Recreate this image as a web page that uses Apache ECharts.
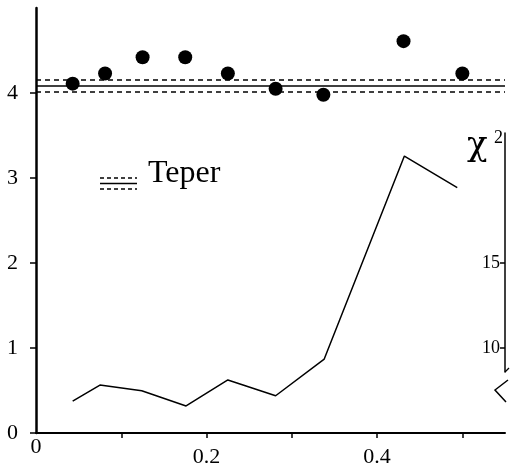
<!DOCTYPE html>
<html>
<head>
    <meta charset="UTF-8">
    <title>Teper chi2</title>
    <script src="https://cdn.jsdelivr.net/npm/echarts@6/dist/echarts.min.js"></script>
    <style type="text/css">
        html, body { margin: 0; padding: 0; background: #fff; }
        #main { width: 511px; height: 470px; }
    </style>
</head>
<body>
<div id="main"></div>
<script type="text/javascript">
    // dots (left axis)
    var dotX = [0.043, 0.081, 0.125, 0.175, 0.225, 0.281, 0.337, 0.431, 0.500];
    var dotY = [4.11, 4.23, 4.42, 4.42, 4.23, 4.05, 3.98, 4.61, 4.23];
    // chi2 curve (right axis)
    var chiX = [0.043, 0.075, 0.124, 0.176, 0.225, 0.281, 0.338, 0.432, 0.494];
    var chiY = [6.88, 7.82, 7.49, 6.59, 8.12, 7.19, 9.35, 21.29, 19.43];
    // Teper value and its band
    var teperBand = [4.161, 4.082, 4.006];
    // tick labels
    var xLabels = [0, 0.2, 0.4];
    var xTicks = [0.1, 0.2, 0.3, 0.4, 0.5];
    var yLabels = [0, 1, 2, 3, 4];
    var chiLabels = [10, 15];

    var serif = 'Liberation Serif';
    var dash = [5, 4];

    var myChart = echarts.init(document.getElementById('main'));

    var dots = dotX.map(function (x, i) { return [x, dotY[i]]; });
    var chi = chiX.map(function (x, i) { return [x, chiY[i]]; });

    var option = {
        animation: false,
        backgroundColor: '#fff',
        grid: [
            {left: 36, right: 6, top: 8, bottom: 37},
            {left: 36, right: 6, top: 133, bottom: 98}
        ],
        xAxis: [
            {
                type: 'value', gridIndex: 0, min: 0, max: 0.55, interval: 0.1,
                axisLine: {show: true, lineStyle: {color: '#000', width: 2}},
                axisTick: {show: true, length: 5, customValues: xTicks, lineStyle: {color: '#000', width: 1.5}},
                splitLine: {show: false},
                axisLabel: {
                    customValues: xLabels,
                    margin: 3,
                    color: '#000',
                    fontFamily: serif,
                    fontSize: 22,
                    formatter: function (v) {
                        return v === 0 ? '{z|0}' : '{n|' + v.toFixed(1) + '}';
                    },
                    rich: {
                        z: {lineHeight: 22, fontSize: 22, fontFamily: serif, color: '#000'},
                        n: {lineHeight: 42, fontSize: 22, fontFamily: serif, color: '#000'}
                    }
                }
            },
            {type: 'value', gridIndex: 1, min: 0, max: 0.55, show: false}
        ],
        yAxis: [
            {
                type: 'value', gridIndex: 0, min: 0, max: 5, interval: 1,
                axisLine: {show: true, lineStyle: {color: '#000', width: 2.5}},
                axisTick: {show: true, length: 6, customValues: yLabels, lineStyle: {color: '#000', width: 1.5}},
                splitLine: {show: false},
                axisLabel: {customValues: yLabels, margin: 18, color: '#000', fontFamily: serif, fontSize: 22}
            },
            {type: 'value', gridIndex: 0, position: 'right', min: 5, max: 30, show: false},
            {
                type: 'value', gridIndex: 1, position: 'right', min: 8.59, max: 22.65,
                axisLine: {show: true, onZero: false, lineStyle: {color: '#000', width: 1.5}},
                axisTick: {show: true, inside: true, length: 5, customValues: chiLabels, lineStyle: {color: '#000', width: 1.5}},
                splitLine: {show: false},
                axisLabel: {inside: true, customValues: chiLabels, margin: 5, color: '#000', fontFamily: serif, fontSize: 18}
            }
        ],
        series: [
            {
                name: 'chi2',
                type: 'line',
                xAxisIndex: 0,
                yAxisIndex: 1,
                data: chi,
                symbol: 'none',
                lineStyle: {color: '#000', width: 1.5}
            },
            {
                name: 'dots',
                type: 'scatter',
                xAxisIndex: 0,
                yAxisIndex: 0,
                data: dots,
                symbolSize: 14,
                itemStyle: {color: '#000', opacity: 1},
                markLine: {
                    silent: true,
                    symbol: ['none', 'none'],
                    label: {show: false},
                    data: [
                        {yAxis: teperBand[0], lineStyle: {color: '#000', width: 1.5, type: dash}},
                        {yAxis: teperBand[1], lineStyle: {color: '#000', width: 1.5, type: 'solid'}},
                        {yAxis: teperBand[2], lineStyle: {color: '#000', width: 1.5, type: dash}}
                    ]
                }
            }
        ],
        graphic: [
            // legend
            {type: 'line', shape: {x1: 100, y1: 178, x2: 137, y2: 178}, style: {stroke: '#000', lineWidth: 1.3, lineDash: [4, 3]}},
            {type: 'line', shape: {x1: 100, y1: 183.5, x2: 137, y2: 183.5}, style: {stroke: '#000', lineWidth: 1.3}},
            {type: 'line', shape: {x1: 100, y1: 189, x2: 137, y2: 189}, style: {stroke: '#000', lineWidth: 1.3, lineDash: [4, 3]}},
            {type: 'text', left: 148, top: 158, style: {text: 'Teper', fill: '#000', font: '32px "Liberation Serif"'}},
            // right axis title
            {type: 'text', left: 467, top: 129, style: {text: 'χ', fill: '#000', font: '34px "DejaVu Serif"'}},
            {type: 'text', left: 494, top: 129, style: {text: '2', fill: '#000', font: '18px "Liberation Serif"'}},
            // axis break
            {type: 'polyline', shape: {points: [[505, 372], [509, 368]]}, style: {stroke: '#000', lineWidth: 1.3, fill: null}},
            {type: 'polyline', shape: {points: [[508, 380], [495, 390], [506, 402]]}, style: {stroke: '#000', lineWidth: 1.5, fill: null}}
        ]
    };

    myChart.setOption(option);
</script>
</body>
</html>
